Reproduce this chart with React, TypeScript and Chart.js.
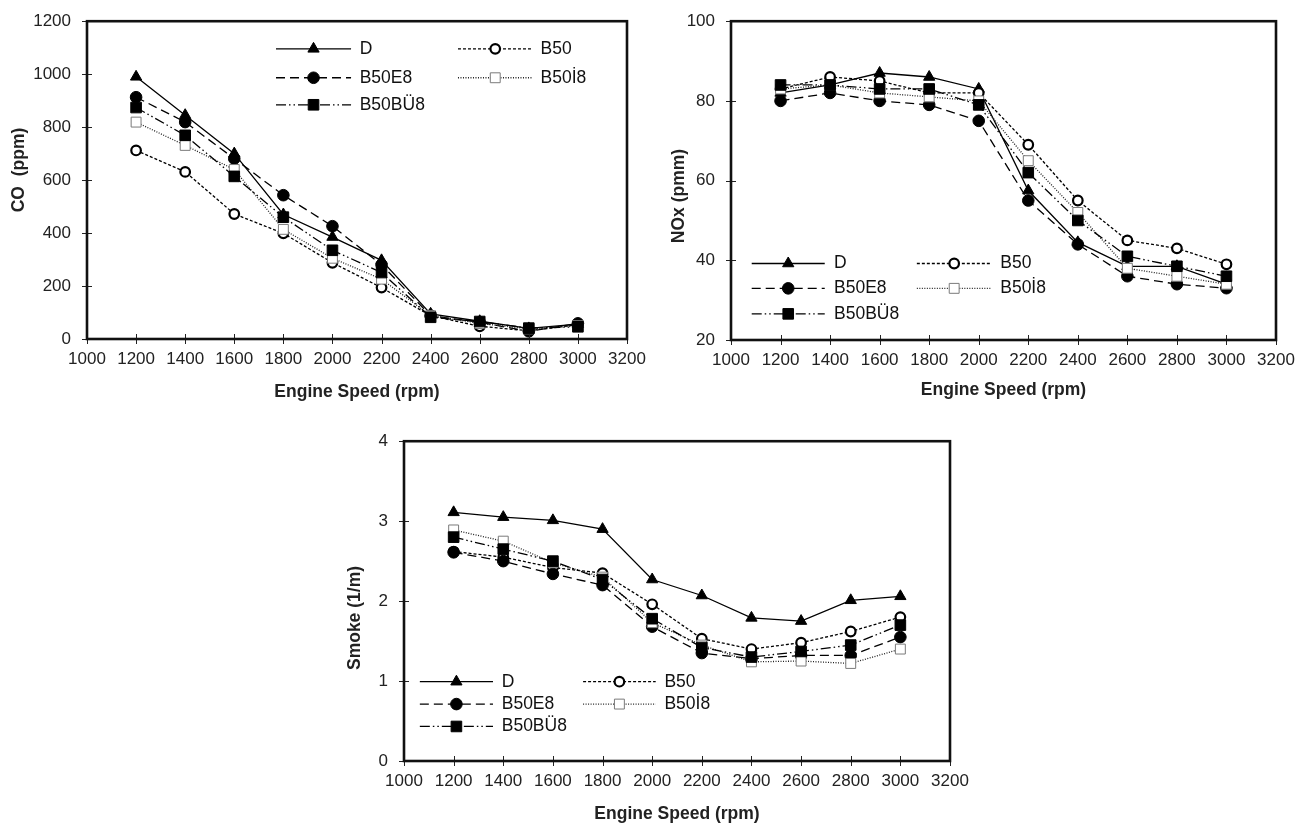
import React, { useEffect, useRef } from "react";
import { Chart, registerables } from "chart.js";
import { drawPoint } from "chart.js/helpers";

Chart.register(...registerables);

const FONT = "'Liberation Sans', Arial, Helvetica, sans-serif";

// ---------- data ----------
const speeds = [1200, 1400, 1600, 1800, 2000, 2200, 2400, 2600, 2800, 3000];
const seriesNames = ["D", "B50", "B50E8", "B50İ8", "B50BÜ8"];

const coD = [990, 845, 700, 470, 385, 297, 95, 67, 40, 56];
const coB50 = [712, 631, 472, 399, 288, 194, 88, 48, 31, 54];
const coB50E8 = [913, 819, 681, 543, 426, 280, 88, 63, 29, 59];
const coB50I8 = [819, 731, 640, 414, 305, 226, 88, 59, 38, 50];
const coB50BU8 = [874, 769, 614, 460, 335, 251, 82, 66, 41, 46];

const noxD = [82, 84, 87, 86, 83, 57.5, 44.5, 38.5, 38.5, 34];
const noxB50 = [83, 86, 85, 82, 82, 69, 55, 45, 43, 39];
const noxB50E8 = [80, 82, 80, 79, 75, 55, 44, 36, 34, 33];
const noxB50I8 = [83, 84, 82, 81, 80, 65, 52, 38, 36, 34];
const noxB50BU8 = [84, 84, 83, 83, 79, 62, 50, 41, 38.5, 36];

const smD = [3.11, 3.05, 3.01, 2.9, 2.27, 2.07, 1.79, 1.75, 2.01, 2.06];
const smB50 = [2.62, 2.55, 2.42, 2.35, 1.96, 1.53, 1.4, 1.48, 1.62, 1.8];
const smB50E8 = [2.61, 2.5, 2.34, 2.2, 1.68, 1.35, 1.28, 1.32, 1.32, 1.55];
const smB50I8 = [2.89, 2.75, 2.48, 2.3, 1.73, 1.45, 1.24, 1.25, 1.22, 1.4];
const smB50BU8 = [2.8, 2.65, 2.5, 2.27, 1.78, 1.42, 1.3, 1.37, 1.45, 1.7];

const xAxisTitle = "Engine Speed (rpm)";
const xMin = 1000;
const xMax = 3200;
const xStep = 200;

// ---------- styles ----------
const seriesStyles = [
  { dash: [], pointStyle: "triangle", radius: 6.5, fill: "#000", stroke: "#000", pbw: 1, line: "#000" },
  { dash: [3, 2], pointStyle: "circle", radius: 4.8, fill: "#fff", stroke: "#000", pbw: 2.2, line: "#000" },
  { dash: [9, 5], pointStyle: "circle", radius: 5.8, fill: "#000", stroke: "#000", pbw: 1, line: "#000" },
  { dash: [1, 1.5], pointStyle: "rect", radius: 7, fill: "#fff", stroke: "#7a7a7a", pbw: 1, line: "#222" },
  { dash: [10, 3, 1.5, 3, 1.5, 3], pointStyle: "rect", radius: 7.5, fill: "#000", stroke: "#000", pbw: 1, line: "#000" },
];

const framePlugin = {
  id: "frame",
  afterDraw(chart: any) {
    const { ctx, chartArea: a, scales } = chart;
    ctx.save();
    ctx.setLineDash([]);
    ctx.strokeStyle = "#222";
    ctx.lineWidth = 1;
    ctx.beginPath();
    scales.x.ticks.forEach((t: any) => {
      const px = Math.round(scales.x.getPixelForValue(t.value)) + 0.5;
      ctx.moveTo(px, a.bottom - 5);
      ctx.lineTo(px, a.bottom + 5);
    });
    scales.y.ticks.forEach((t: any) => {
      const py = Math.round(scales.y.getPixelForValue(t.value)) + 0.5;
      ctx.moveTo(a.left - 5, py);
      ctx.lineTo(a.left + 5, py);
    });
    ctx.stroke();
    ctx.strokeStyle = "#111";
    ctx.lineWidth = 2.6;
    ctx.strokeRect(a.left, a.top, a.right - a.left, a.bottom - a.top);
    ctx.restore();
  },
};

const yTitlePlugin = {
  id: "yTitle",
  afterDraw(chart: any, _args: any, opts: any) {
    if (!opts || !opts.text) return;
    const { ctx } = chart;
    ctx.save();
    ctx.translate(opts.x, opts.y);
    ctx.rotate(-Math.PI / 2);
    ctx.fillStyle = "#222";
    ctx.font = `bold 17.5px ${FONT}`;
    ctx.textAlign = "center";
    ctx.textBaseline = "middle";
    ctx.fillText(opts.text, 0, 0);
    ctx.restore();
  },
};

const legendPlugin = {
  id: "insideLegend",
  afterDraw(chart: any, _args: any, opts: any) {
    if (!opts || !opts.rows) return;
    const { ctx, chartArea: a } = chart;
    const w = a.right - a.left;
    const h = a.bottom - a.top;
    chart.data.datasets.forEach((ds: any, i: number) => {
      const col = i % 2;
      const row = Math.floor(i / 2);
      const [s, e, t] = col === 0 ? opts.col1 : opts.col2;
      const y = a.top + opts.rows[row] * h;
      const x1 = a.left + s * w;
      const x2 = a.left + e * w;
      const xt = a.left + t * w;
      ctx.save();
      ctx.strokeStyle = ds.borderColor;
      ctx.lineWidth = ds.borderWidth;
      ctx.setLineDash(ds.borderDash || []);
      ctx.beginPath();
      ctx.moveTo(x1, y);
      ctx.lineTo(x2, y);
      ctx.stroke();
      ctx.setLineDash([]);
      ctx.fillStyle = ds.pointBackgroundColor;
      ctx.strokeStyle = ds.pointBorderColor;
      ctx.lineWidth = ds.pointBorderWidth;
      drawPoint(
        ctx,
        { pointStyle: ds.pointStyle, radius: ds.pointRadius, rotation: 0, borderWidth: ds.pointBorderWidth },
        (x1 + x2) / 2,
        y
      );
      ctx.fillStyle = "#111";
      ctx.font = `17.5px ${FONT}`;
      ctx.textBaseline = "middle";
      ctx.textAlign = "left";
      ctx.fillText(ds.label, xt, y);
      ctx.restore();
    });
  },
};

type Props = {
  left: number;
  top: number;
  width: number;
  height: number;
  yAxisWidth: number;
  xAxisHeight: number;
  padTop: number;
  padRight: number;
  yMin: number;
  yMax: number;
  yStep: number;
  yTitle: any;
  series: number[][];
  legend: any;
};

function EmissionChart(p: Props) {
  const ref = useRef<HTMLCanvasElement | null>(null);
  useEffect(() => {
    if (!ref.current) return;
    const datasets = p.series.map((vals, i) => {
      const st = seriesStyles[i];
      return {
        label: seriesNames[i],
        data: speeds.map((s, j) => ({ x: s, y: vals[j] })),
        borderColor: st.line,
        borderWidth: 1.3,
        borderDash: st.dash,
        pointStyle: st.pointStyle,
        pointRadius: st.radius,
        pointBackgroundColor: st.fill,
        pointBorderColor: st.stroke,
        pointBorderWidth: st.pbw,
        tension: 0,
        fill: false,
        order: seriesNames.length - i,
      };
    });
    const chart = new Chart(ref.current, {
      type: "line",
      data: { datasets } as any,
      plugins: [framePlugin, legendPlugin, yTitlePlugin],
      options: {
        animation: false,
        responsive: true,
        maintainAspectRatio: false,
        layout: { padding: { top: p.padTop, right: p.padRight, left: 0, bottom: 0 } },
        plugins: {
          legend: { display: false },
          tooltip: { enabled: false },
          insideLegend: p.legend,
          yTitle: p.yTitle,
        } as any,
        scales: {
          x: {
            type: "linear",
            min: xMin,
            max: xMax,
            afterFit: (scale: any) => {
              scale.height = p.xAxisHeight;
            },
            ticks: {
              stepSize: xStep,
              autoSkip: false,
              maxRotation: 0,
              padding: 5,
              color: "#222",
              font: { family: FONT, size: 17 },
              callback: (v: any) => String(v),
            },
            grid: { drawOnChartArea: false, drawTicks: true, tickLength: 5, color: "rgba(0,0,0,0)", lineWidth: 1 },
            border: { display: false },
            title: {
              display: true,
              text: xAxisTitle,
              color: "#222",
              font: { family: FONT, size: 17.5, weight: "bold" },
              padding: { top: 0, bottom: 0 },
            },
          },
          y: {
            type: "linear",
            min: p.yMin,
            max: p.yMax,
            afterFit: (scale: any) => {
              scale.width = p.yAxisWidth;
            },
            ticks: {
              stepSize: p.yStep,
              autoSkip: false,
              padding: 11,
              color: "#222",
              font: { family: FONT, size: 17 },
              callback: (v: any) => String(v),
            },
            grid: { drawOnChartArea: false, drawTicks: true, tickLength: 5, color: "rgba(0,0,0,0)", lineWidth: 1 },
            border: { display: false },
            title: { display: false },
          },
        },
      } as any,
    });
    return () => chart.destroy();
  }, []);
  return (
    <div style={{ position: "absolute", left: p.left, top: p.top, width: p.width, height: p.height }}>
      <canvas ref={ref} />
    </div>
  );
}

export default function App() {
  return (
    <div style={{ position: "absolute", left: 0, top: 0, width: 1304, height: 826, background: "#fff", overflow: "hidden" }}>
      <EmissionChart
        left={0}
        top={0}
        width={652}
        height={403}
        yAxisWidth={87}
        xAxisHeight={64}
        padTop={19}
        padRight={25}
        yMin={0}
        yMax={1200}
        yStep={200}
        yTitle={{ text: "CO  (ppm)", x: 19, y: 170 }}
        series={[coD, coB50, coB50E8, coB50I8, coB50BU8]}
        legend={{ col1: [0.35, 0.489, 0.505], col2: [0.687, 0.825, 0.84], rows: [0.087, 0.178, 0.263] }}
      />
      <EmissionChart
        left={660}
        top={0}
        width={644}
        height={401}
        yAxisWidth={71}
        xAxisHeight={61}
        padTop={14}
        padRight={28}
        yMin={20}
        yMax={100}
        yStep={20}
        yTitle={{ text: "NOx (pmm)", x: 19, y: 196 }}
        series={[noxD, noxB50, noxB50E8, noxB50I8, noxB50BU8]}
        legend={{ col1: [0.038, 0.172, 0.189], col2: [0.341, 0.478, 0.494], rows: [0.76, 0.838, 0.918] }}
      />
      <EmissionChart
        left={340}
        top={420}
        width={640}
        height={405}
        yAxisWidth={64}
        xAxisHeight={64}
        padTop={18}
        padRight={30}
        yMin={0}
        yMax={4}
        yStep={1}
        yTitle={{ text: "Smoke (1/m)", x: 15.5, y: 198 }}
        series={[smD, smB50, smB50E8, smB50I8, smB50BU8]}
        legend={{ col1: [0.029, 0.163, 0.179], col2: [0.328, 0.461, 0.477], rows: [0.752, 0.822, 0.892] }}
      />
    </div>
  );
}
